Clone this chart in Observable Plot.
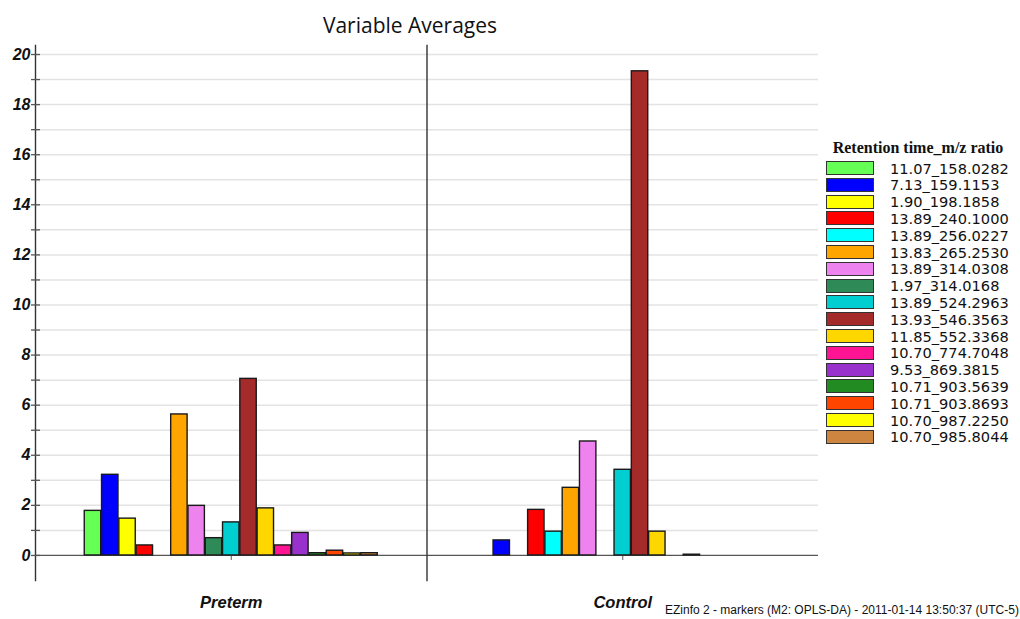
<!DOCTYPE html>
<html>
<head>
<meta charset="utf-8">
<script src="https://cdn.jsdelivr.net/npm/d3@7"></script>
<script src="https://cdn.jsdelivr.net/npm/@observablehq/plot@0.6"></script>
<style>
  html, body { margin: 0; padding: 0; background: #fff; }
  #wrap { position: relative; width: 1020px; height: 619px; overflow: hidden; background: #fff; }
  #chart { position: absolute; left: 0; top: 0; }
  #title { position: absolute; left: 0; width: 820px; top: 11px; text-align: center;
           font-family: "Open Sans", sans-serif; font-size: 21px; line-height: 28px; color: #111; }
  #legend-title { position: absolute; left: 818px; width: 200px; top: 138px; text-align: center;
           font-family: "Liberation Serif", serif; font-weight: bold; font-size: 16px; line-height: 20px; color: #111; }
  .sw { position: absolute; left: 826px; width: 46px; height: 12px; border: 1px solid #333; }
  .lb { position: absolute; left: 890px; font-family: "DejaVu Sans", sans-serif; font-size: 14.6px; line-height: 16px; color: #111; white-space: nowrap; }
  #footer { position: absolute; left: 665px; top: 603px; font-family: "Liberation Sans Narrow", "Liberation Sans", sans-serif;
           font-size: 12px; line-height: 14px; color: #111; white-space: nowrap; }
</style>
</head>
<body>
<div id="wrap">
  <div id="chart"></div>
  <div id="title">Variable Averages</div>
  <div id="legend-title">Retention time_m/z ratio</div>
  <div id="footer">EZinfo 2 - markers (M2: OPLS-DA) - 2011-01-14 13:50:37 (UTC-5)</div>
</div>
<script>
const groups = ["Preterm", "Control"];
const series = [
  "11.07_158.0282", "7.13_159.1153", "1.90_198.1858", "13.89_240.1000",
  "13.89_256.0227", "13.83_265.2530", "13.89_314.0308", "1.97_314.0168",
  "13.89_524.2963", "13.93_546.3563", "11.85_552.3368", "10.70_774.7048",
  "9.53_869.3815", "10.71_903.5639", "10.71_903.8693", "10.70_987.2250",
  "10.70_985.8044"
];
const colors = [
  "#66ff55", "#0000ff", "#ffff00", "#ff0000",
  "#00ffff", "#ffa500", "#ee82ee", "#2e8b57",
  "#00ced1", "#a52a2a", "#ffd700", "#ff1493",
  "#9932cc", "#228b22", "#ff4500", "#ffff00",
  "#cd853f"
];
const pretermValues = [1.78, 3.22, 1.47, 0.40, 0, 5.63, 1.98, 0.69, 1.32, 7.05, 1.88, 0.40, 0.90, 0.09, 0.19, 0.08, 0.09];
const controlValues = [0, 0.60, 0, 1.82, 0.95, 2.70, 4.55, 0, 3.42, 19.33, 0.95, 0, 0.03, 0, 0, 0, 0];
const yTicks = d3.range(0, 21, 1);
const yLabels = d3.range(0, 21, 2);

const rows = [];
groups.forEach((g, gi) => {
  const vals = gi === 0 ? pretermValues : controlValues;
  series.forEach((s, i) => rows.push({group: g, series: s, value: vals[i]}));
});

const chart = Plot.plot({
  width: 1020,
  height: 619,
  marginLeft: 35,
  marginRight: 202,
  marginTop: 45,
  marginBottom: 39,
  style: {fontFamily: "Liberation Sans, Arial, sans-serif", background: "transparent"},
  fx: {domain: groups, padding: 0, axis: null, round: false},
  x: {domain: series, paddingInner: 0.05, paddingOuter: 2.85, axis: null, round: false},
  y: {domain: [-1, 20.36], axis: null},
  color: {domain: series, range: colors, type: "ordinal"},
  marks: [
    Plot.ruleY(d3.range(1, 21), {stroke: "#e3e3e3", strokeWidth: 1.5}),
    Plot.ruleY([0], {stroke: "#555", strokeWidth: 1.3}),
    Plot.frame({anchor: "left", stroke: "#333", strokeWidth: 1.4}),
    Plot.ruleX(groups, {fx: d => d, x: () => series[8], y1: 0, y2: -0.2, stroke: "#555"}),
    Plot.barY(rows.filter(d => d.value > 0), {
      fx: "group", x: "series", y: "value", fill: "series",
      stroke: "#1a1a1a", strokeWidth: 1.4
    }),
    Plot.axisY({ticks: yTicks, tickSize: 9, dx: 5, tickFormat: () => "", label: null, stroke: "#555", strokeWidth: 1.3}),
    Plot.axisY({ticks: yLabels, tickSize: 0, tickPadding: 5, label: null, fontSize: 16, fontWeight: "bold", fontStyle: "italic", fill: "#111"}),
    Plot.axisFx({anchor: "bottom", tickSize: 0, tickPadding: 16, label: null, fontSize: 16.5, fontWeight: "bold", fontStyle: "italic", fill: "#111"})
  ]
});
document.getElementById("chart").appendChild(chart);

const wrap = document.getElementById("wrap");
series.forEach((s, i) => {
  const top = 161 + 16.8 * i;
  const sw = document.createElement("div");
  sw.className = "sw";
  sw.style.top = top + "px";
  sw.style.background = colors[i];
  wrap.appendChild(sw);
  const lb = document.createElement("div");
  lb.className = "lb";
  lb.style.top = (top - 0.5) + "px";
  lb.textContent = s;
  wrap.appendChild(lb);
});
</script>
</body>
</html>
